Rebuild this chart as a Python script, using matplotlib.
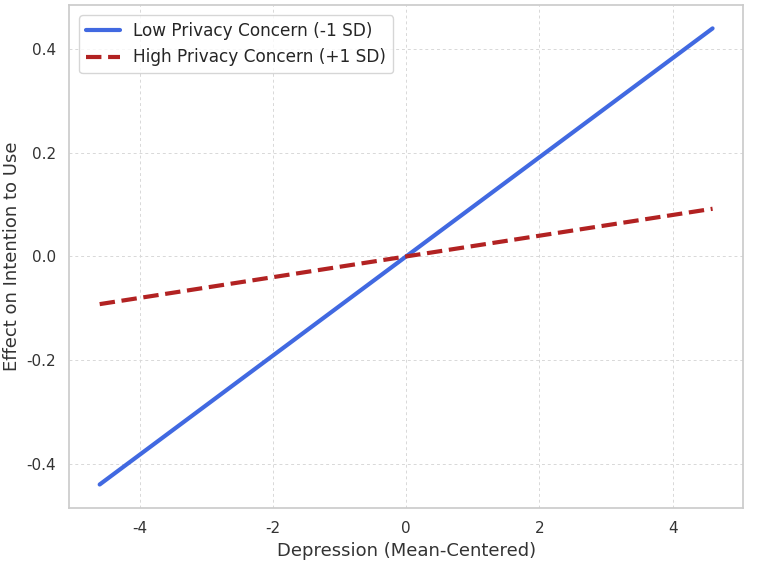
import matplotlib.pyplot as plt
import seaborn as sns

# simple slopes
depression = [-4.6, 0.0, 4.6]
low_concern = [-0.44, 0.0, 0.44]
high_concern = [-0.092, 0.0, 0.092]

sns.set_theme(style="whitegrid")
plt.rcParams['font.family'] = ['DejaVu Sans']
plt.rcParams['axes.unicode_minus'] = False

fig, ax = plt.subplots(figsize=(7.67, 5.63), dpi=100)

ax.plot(depression, low_concern, color='royalblue', lw=3,
        label='Low Privacy Concern (-1 SD)')
ax.plot(depression, high_concern, color='firebrick', lw=3, ls='--',
        label='High Privacy Concern (+1 SD)')

ax.set_xlim(-5.06, 5.06)
ax.set_ylim(-0.485, 0.485)
ax.set_xticks([-4, -2, 0, 2, 4])
ax.set_yticks([-0.4, -0.2, 0.0, 0.2, 0.4])
ax.set_yticklabels(['-0.4', '-0.2', '0.0', '0.2', '0.4'])
ax.tick_params(labelsize=11, colors='#333333')

ax.grid(True, ls=(0, (3, 3)), color='#d8d8d8', lw=0.7)
for s in ax.spines.values():
    s.set_color('#cccccc')

ax.set_xlabel('Depression (Mean-Centered)', fontsize=13, color='#333333')
ax.set_ylabel('Effect on Intention to Use', fontsize=13, color='#333333')

leg = ax.legend(loc='upper left', fontsize=12.2, frameon=True,
                borderaxespad=0.6)

fig.subplots_adjust(left=0.09, right=0.969, top=0.991, bottom=0.098)
fig.savefig('out.png', dpi=100)
